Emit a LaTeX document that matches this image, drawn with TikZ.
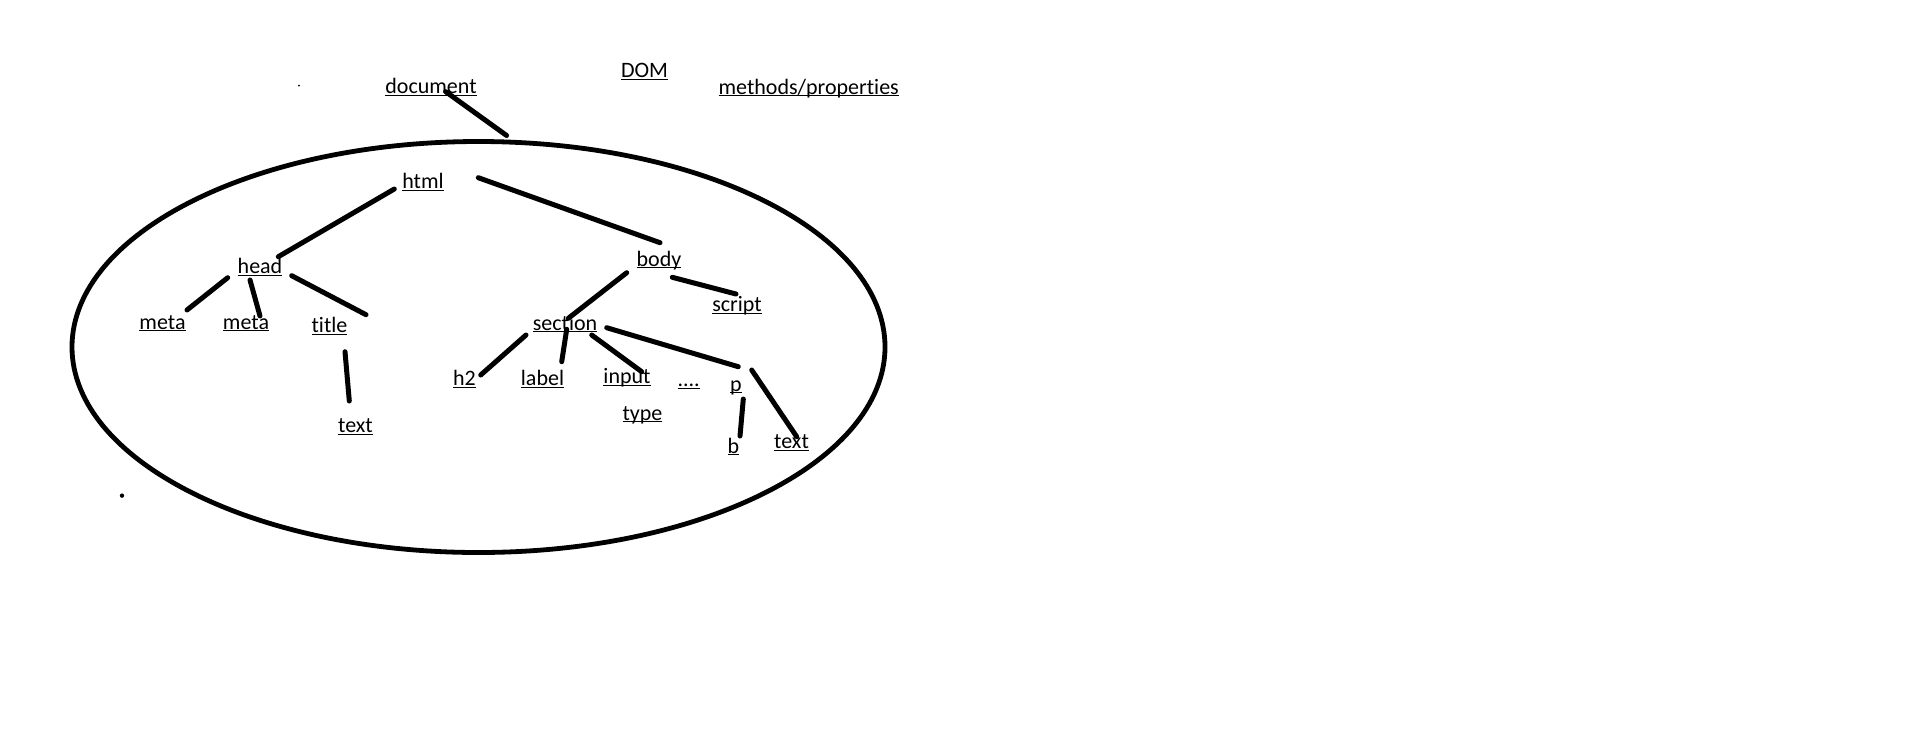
\documentclass[tikz,border=0pt]{standalone}
\usepackage{fontspec}
\setmainfont{Carlito}[Ligatures=NoCommon]
\usetikzlibrary{shapes.geometric}
\newcommand{\ulword}[1]{\setbox0\hbox{#1}\rlap{\rule[-1.1pt]{\wd0}{0.55pt}}\box0}
\tikzstyle{word} = [inner sep=0pt, anchor=base, font=\fontsize{11pt}{13pt}\selectfont]
\tikzstyle{link} = [draw, line width=2.5pt, line cap=round]
\tikzstyle{tree} = [ellipse, draw, line width=2.4pt, minimum width=406.5pt,
     minimum height=205.5pt, inner sep=0pt]

\begin{document}
\begin{tikzpicture}[x=0.5pt,y=-0.5pt]
\useasboundingbox (0,0) rectangle (1914,740);

% top line
\node (document) [word] at (431,93.5) {\ulword{document}};
\node (dom) [word] at (644.5,77.5) {\ulword{DOM}};
\node (methods) [word] at (808.7,94) {\ulword{methods/properties}};
\node (tree) [tree] at (478.5,347) {};

% html, head
\node (html) [word] at (423,188.5) {\ulword{html}};
\node (head) [word] at (260,273.5) {\ulword{head}};
\node (meta_1) [word] at (162.5,329) {\ulword{meta}};
\node (meta_2) [word] at (246,329) {\ulword{meta}};
\node (title) [word] at (329.5,332.5) {\ulword{title}};
\node (text_title) [word] at (355.5,432.5) {\ulword{text}};

% body
\node (body) [word] at (659,266) {\ulword{body}};
\node (script) [word] at (737,311.5) {\ulword{script}};
\node (section) [word] at (565,330) {\ulword{section}};
\node (h_2) [word] at (464.5,385.5) {\ulword{h2}};
\node (label) [word] at (542.5,385.5) {\ulword{label}};
\node (input) [word] at (627,383.5) {\ulword{input}};
\node (type) [word] at (642.5,420) {\ulword{type}};
\node (more) [word] at (688.7,386.5) {\ulword{....}};
\node (p) [word] at (736,391) {\ulword{p}};
\node (b) [word] at (733.5,453) {\ulword{b}};
\node (text_p) [word] at (791.5,448.5) {\ulword{text}};

\draw[link] ([shift={(14.6,-1.9)}]document.base) -- ([shift={(28.1,-3.6)}]tree.north);
\draw[link] ([shift={(-28.7,0.5)}]html.base) -- ([shift={(18.3,-16.8)}]head.base);
\draw[link] ([shift={(55.3,-10.8)}]html.base) -- ([shift={(1,-23.3)}]body.base);
\draw[link] ([shift={(-32.3,4.2)}]head.base) -- ([shift={(24.5,-19)}]meta_1.base);
\draw[link] ([shift={(-10,6.5)}]head.base) -- ([shift={(14,-13)}]meta_2.base);
\draw[link] ([shift={(31.7,2.2)}]head.base) -- ([shift={(36.5,-17.8)}]title.base);
\draw[link] ([shift={(15.5,19.2)}]title.base) -- ([shift={(-6.2,-31.5)}]text_title.base);
\draw[link] ([shift={(-32.3,6.7)}]body.base) -- ([shift={(3.3,-11.7)}]section.base);
\draw[link] ([shift={(13.3,11.3)}]body.base) -- ([shift={(-1,-17.5)}]script.base);
\draw[link] ([shift={(-39,5)}]section.base) -- ([shift={(16.2,-10.5)}]h_2.base);
\draw[link] ([shift={(1.7,-0.7)}]section.base) -- ([shift={(19.2,-23.8)}]label.base);
\draw[link] ([shift={(26.7,5)}]section.base) -- ([shift={(14.7,-11.8)}]input.base);
\draw[link] ([shift={(41.7,-2.3)}]section.base) -- ([shift={(2.3,-24.3)}]p.base);
\draw[link] ([shift={(7.3,8)}]p.base) -- ([shift={(6.5,-17)}]b.base);
\draw[link] ([shift={(15.7,-21)}]p.base) -- ([shift={(5.2,-11.8)}]text_p.base);

% stray dots
\fill (299,85.5) circle (0.5pt);
\fill (122,495.6) circle (1.1pt);

\end{tikzpicture}
\end{document}
